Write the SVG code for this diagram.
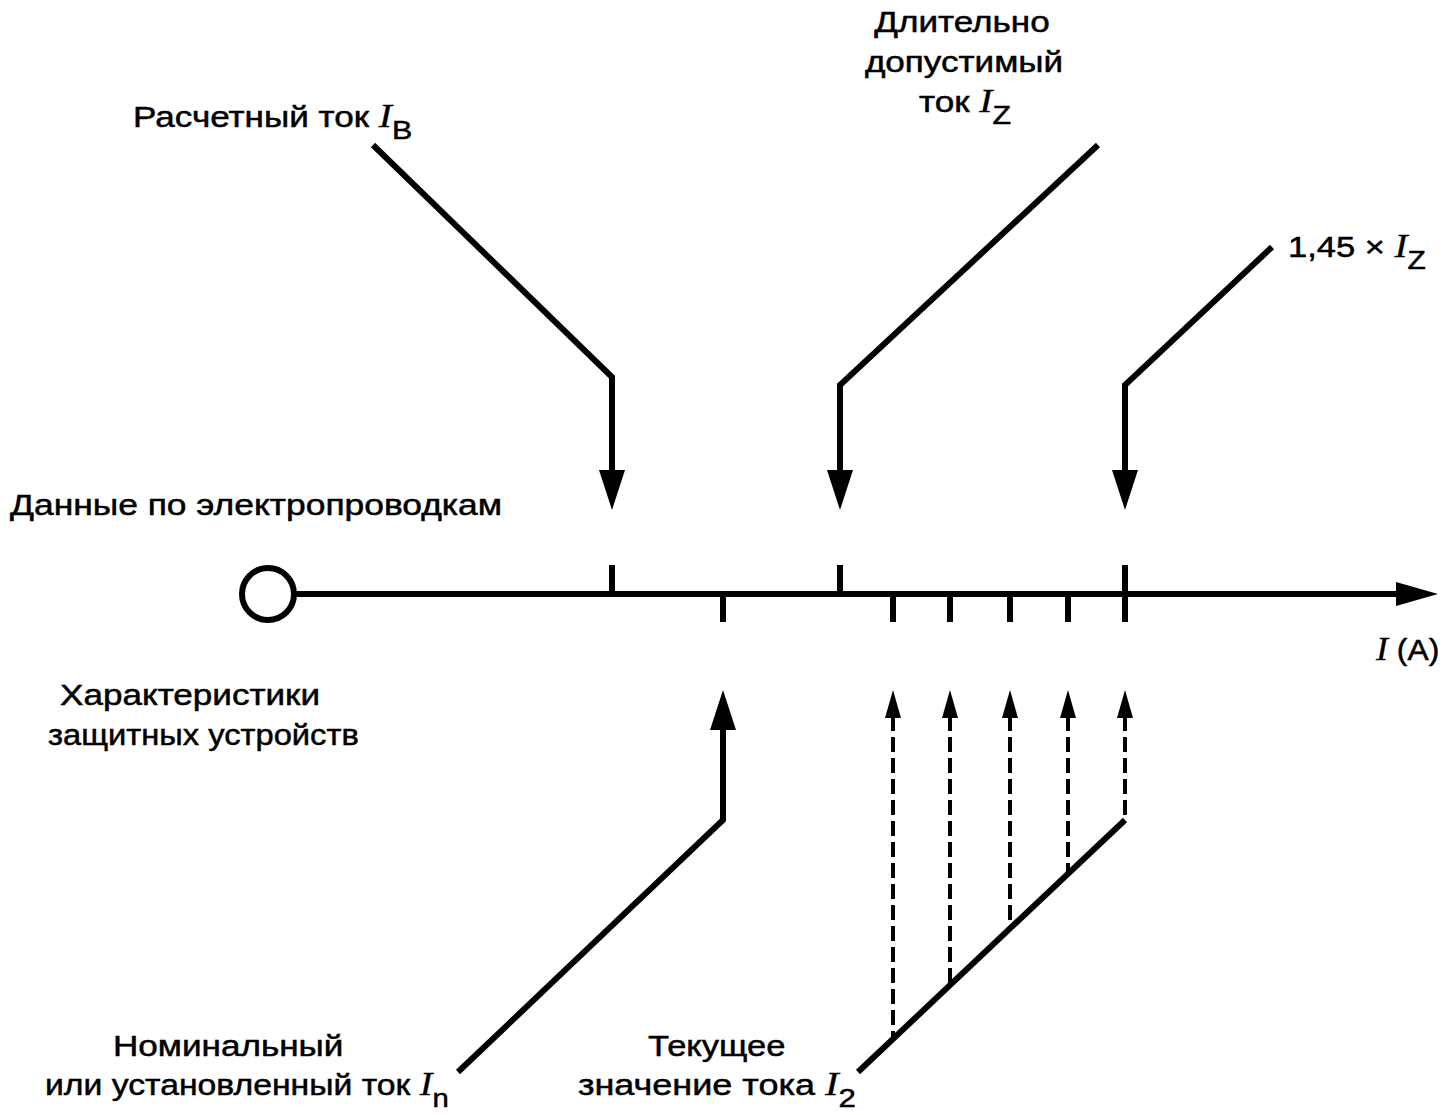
<svg xmlns="http://www.w3.org/2000/svg" width="1444" height="1115" viewBox="0 0 1444 1115">
<style>
.t{font-family:"Liberation Sans",Arial,sans-serif;font-size:30px;fill:#000;stroke:#000;stroke-width:0.5}
.i{font-family:"Liberation Serif","Times New Roman",serif;font-style:italic;font-size:34px;stroke-width:0.3}
.s{font-family:"Liberation Sans",Arial,sans-serif;font-style:normal;font-size:26px}
.ln{fill:none;stroke:#000;stroke-width:6}
.dl{fill:none;stroke:#000;stroke-width:4;stroke-dasharray:15 6}
.hd{fill:#000;stroke:none}
</style>
<g id="axis">
<circle cx="268" cy="594" r="26" fill="none" stroke="#000" stroke-width="6"/>
<path class="ln" d="M294,594 H1400"/>
<polygon class="hd" points="1396,582 1438,594 1396,606"/>
<path class="ln" d="M612,565 V594 M840,565 V594 M1125,565 V622 M723,594 V622 M893,594 V622 M950,594 V622 M1010,594 V622 M1068,594 V622"/>
<text class="t" transform="translate(1376,660) scale(1.06,1)"><tspan class="i">I</tspan> (A)</text>
</g>
<g id="label-wiring"><text class="t" transform="translate(10,515) scale(1.18,1)">Данные по электропроводкам</text></g>
<g id="label-protective">
<text class="t" transform="translate(60,705) scale(1.17,1)">Характеристики</text>
<text class="t" transform="translate(48,745) scale(1.09,1)">защитных устройств</text>
</g>
<g id="node-IB"><text class="t" transform="translate(133,127) scale(1.17,1)">Расчетный ток <tspan class="i">I</tspan><tspan class="s" dy="12">B</tspan></text></g>
<g id="node-IZ">
<text class="t" text-anchor="middle" transform="translate(962,32) scale(1.17,1)">Длительно</text>
<text class="t" text-anchor="middle" transform="translate(964,72) scale(1.17,1)">допустимый</text>
<text class="t" text-anchor="middle" transform="translate(965,112) scale(1.17,1)">ток <tspan class="i">I</tspan><tspan class="s" dy="12">Z</tspan></text>
</g>
<g id="node-145IZ"><text class="t" transform="translate(1288,257) scale(1.15,1)">1,45 × <tspan class="i">I</tspan><tspan class="s" dy="12">Z</tspan></text></g>
<g id="node-In">
<text class="t" transform="translate(113,1056) scale(1.17,1)">Номинальный</text>
<text class="t" transform="translate(45,1095) scale(1.125,1)">или установленный ток <tspan class="i">I</tspan><tspan class="s" dy="12">n</tspan></text>
</g>
<g id="node-I2">
<text class="t" transform="translate(648,1056) scale(1.15,1)">Текущее</text>
<text class="t" transform="translate(578,1095) scale(1.2,1)">значение тока <tspan class="i">I</tspan><tspan class="s" dy="12">2</tspan></text>
</g>
<g id="connectors">
<path class="ln" d="M373,145 L612,377 V472"/>
<polygon class="hd" points="599,470 625,470 612,510"/>
<path class="ln" d="M1098,145 L840,385 V472"/>
<polygon class="hd" points="827,470 853,470 840,510"/>
<path class="ln" d="M1272,247 L1125,385 V472"/>
<polygon class="hd" points="1112,470 1138,470 1125,510"/>
<path class="ln" d="M458,1072 L723,820 V728"/>
<polygon class="hd" points="710,730 736,730 723,690"/>
<path class="ln" d="M858,1072 L1125,820"/>
<path class="dl" d="M893,716 V1039"/>
<polygon class="hd" points="885,718 901,718 893,690"/>
<path class="dl" d="M950,716 V985"/>
<polygon class="hd" points="942,718 958,718 950,690"/>
<path class="dl" d="M1010,716 V928"/>
<polygon class="hd" points="1002,718 1018,718 1010,690"/>
<path class="dl" d="M1068,716 V874"/>
<polygon class="hd" points="1060,718 1076,718 1068,690"/>
<path class="dl" d="M1125,716 V820"/>
<polygon class="hd" points="1117,718 1133,718 1125,690"/>
</g>
</svg>
